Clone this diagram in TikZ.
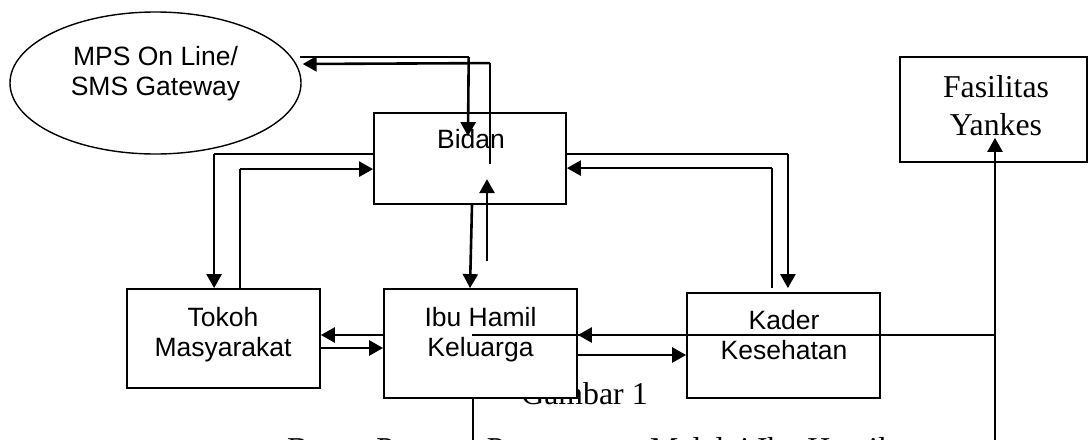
\documentclass[tikz,border=0pt]{standalone}
\usepackage{fontspec}
\setmainfont{Liberation Serif}
\newfontfamily\arialfont{Liberation Sans}
\usetikzlibrary{arrows.meta}
\usetikzlibrary{shapes.geometric}
\tikzset{>={Triangle[length=14pt,width=15pt]}}
\tikzset{
  box/.style={draw, line width=1.8, fill=white, rectangle, inner sep=0pt},
  sanslbl/.style={font={\arialfont\fontsize{26.5}{30}\selectfont}, align=center, anchor=base, inner sep=0pt},
  seriflbl/.style={font={\fontsize{31.8}{38}\selectfont}, align=center, anchor=base, inner sep=0pt},
  thk/.style={line width=2.6},
  thn/.style={line width=1.5}
}

\begin{document}
\begin{tikzpicture}[x=1pt, y=-1pt]
\useasboundingbox (0,0) rectangle (1089,439);

% caption under the boxes
\node[seriflbl] (gambar) at (584.5,404) {Gambar 1};
\node[seriflbl] (judul) at (587,459) {Bagan Peranan Pemantauan Melalui Ibu Hamil};

% boxes
\node[draw, ellipse, line width=1.4, fill=white, minimum width=291, minimum height=142] (mps) at (155.5,83) {};
\node[box, minimum width=192, minimum height=91] (bidan) at (470,158.5) {};
\node[box, minimum width=193, minimum height=99] (tokoh) at (223.5,338.5) {};
\node[box, minimum width=193, minimum height=109] (ibu) at (480.5,343.5) {};
\node[box, minimum width=193, minimum height=105] (kader) at (783.5,345.5) {};
\node[box, minimum width=187, minimum height=105] (yankes) at (993.5,109.5) {};

% labels (base = last line)
\node[sanslbl] (mpslbl) at (155.5,95) {MPS On Line/\\SMS Gateway};
\node[sanslbl] (bidanlbl) at (471,148) {Bidan};
\node[sanslbl] (tokohlbl) at (223,356) {Tokoh\\Masyarakat};
\node[sanslbl] (ibulbl) at (480.5,356) {Ibu Hamil\\Keluarga};
\node[sanslbl] (kaderlbl) at (784,359) {Kader\\Kesehatan};
\node[seriflbl] (yankeslbl) at (996,135) {Fasilitas\\Yankes};

% MPS <-> Bidan
\draw[thn] ([shift={(-2,-26)}]mps.east) -- ++(169,0) coordinate (m1);
\draw[thk,->] (m1) -- ([shift={(-2,24)}]bidan.north);
\draw[thn] ([shift={(20,52)}]bidan.north) -- ++(0,-101) coordinate (m2);
\draw[thk,->] (m2) -- ([shift={(1,-19)}]mps.east);

% Bidan <-> Tokoh
\draw[thn] ([shift={(0,-4.5)}]bidan.west) -- ++(-159,0) coordinate (t1);
\draw[thk,->] (t1) -- (t1 |- tokoh.north);
\draw[thn] ([xshift=16.5]tokoh.north) -- ++(0,-119) coordinate (t2);
\draw[thk,->] (t2) -- (t2 -| bidan.west);

% Bidan <-> Kader
\draw[thn] ([shift={(0,-4.5)}]bidan.east) -- ++(221,0) coordinate (k1);
\draw[thk,->,shorten >=4] (k1) -- (k1 |- kader.north);
\draw[thn] ([shift={(-11.5,-4)}]kader.north) -- ++(0,-120) coordinate (k2);
\draw[thk,->] (k2) -- (k2 -| bidan.east);

% Bidan <-> Ibu Hamil
\draw[thk,->] ([xshift=2]bidan.south) -- ([xshift=-10.5]ibu.north);
\draw[thk,->] ([shift={(6.5,-27)}]ibu.north) -- ++(0,-82);

% Tokoh <-> Ibu Hamil <-> Kader
\draw[thk,->] ([shift={(0,-8.5)}]ibu.west) coordinate (i1) -- (i1 -| tokoh.east);
\draw[thk,->] ([shift={(0,9.5)}]tokoh.east) coordinate (i2) -- (i2 -| ibu.west);
\draw[thk,->] ([shift={(0,11.5)}]ibu.east) coordinate (i3) -- (i3 -| kader.west);
\draw[thk,->] ([shift={(0,-10.5)}]kader.west) coordinate (i4) -- (i4 -| ibu.east);

% line up to Fasilitas Yankes
\draw[thk,->] ([shift={(1.5,300)}]yankes.south) coordinate (y1) -- ([shift={(1.5,-25)}]yankes.south);
\draw[thn] (y1 |- i4) -- ++(-523,0);
\draw[thn] ([xshift=-7.5]ibu.south) -- ++(0,60);

\end{tikzpicture}
\end{document}
